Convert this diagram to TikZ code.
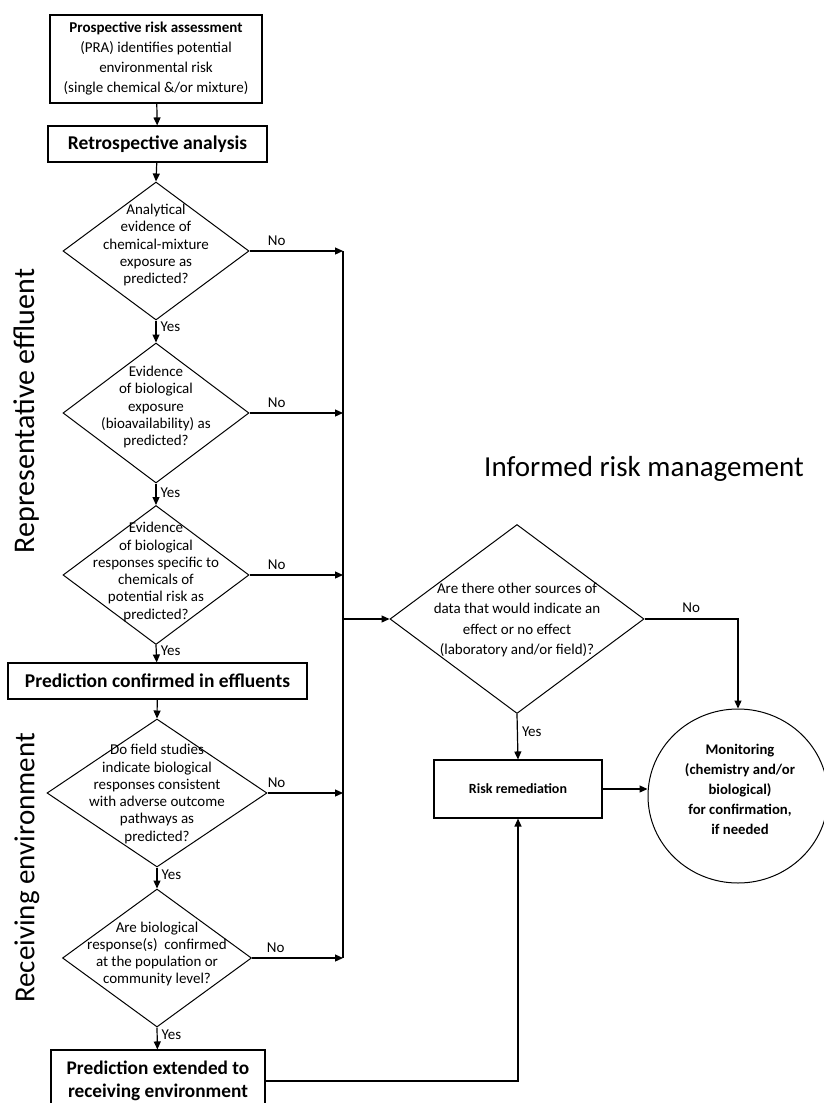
\documentclass[tikz,border=0pt]{standalone}
\usepackage{fontspec}
\setmainfont{Carlito}
\usetikzlibrary{shapes.geometric,arrows.meta}
\begin{document}
\begin{tikzpicture}[x=1pt,y=-1pt,
  box/.style={draw, line width=1.1pt, inner sep=0pt, align=center},
  dia/.style={draw, diamond, inner sep=0pt, line width=1pt},
  dtext/.style={align=center, inner sep=0pt, font=\fontsize{15}{17.3}\selectfont},
  lbl/.style={inner sep=0pt, font=\fontsize{15}{17}\selectfont},
  arr/.style={-{Triangle[length=8pt,width=7pt]}, line width=1.2pt},
  conn/.style={line width=1.2pt},
  big/.style={inner sep=0pt, font=\fontsize{30}{34}\selectfont}]
\fill[white] (0,0) rectangle (823,1103);
\useasboundingbox (0,0) rectangle (823,1103);

% left column
\node[box, minimum width=212pt, minimum height=88pt, font=\fontsize{15}{20}\selectfont] (pra) at (156,59)
  {\textbf{Prospective risk assessment}\\(PRA) identifies potential\\environmental risk\\(single chemical \&/or mixture)};
\node[box, minimum width=219pt, minimum height=36pt, font=\bfseries\fontsize{19.5}{22}\selectfont] (retro) at (157.5,144) {Retrospective analysis};

\node[dia, minimum width=186pt, minimum height=138pt] (d1) at (156,251) {};
\node[dtext] at (156,245) {Analytical\\evidence of\\chemical-mixture\\exposure as\\predicted?};
\node[dia, minimum width=186pt, minimum height=140pt] (d2) at (156,413) {};
\node[dtext] at (156,407) {Evidence\\of biological\\exposure\\(bioavailability) as\\predicted?};
\node[dia, minimum width=186pt, minimum height=139pt] (d3) at (156,575) {};
\node[dtext] at (156,572) {Evidence\\of biological\\responses specific to\\chemicals of\\potential risk as\\predicted?};

\node[box, minimum width=299pt, minimum height=36pt, font=\bfseries\fontsize{19.5}{22}\selectfont] (conf) at (157.5,681) {Prediction confirmed in effluents};

\node[dia, minimum width=220pt, minimum height=148pt] (d4) at (157,793) {};
\node[dtext] at (157,794) {Do field studies\\indicate biological\\responses consistent\\with adverse outcome\\pathways as\\predicted?};
\node[dia, minimum width=189pt, minimum height=138pt] (d5) at (157,958) {};
\node[dtext] at (157,954) {Are biological\\response(s)\ \ confirmed\\at the population or\\community level?};

\node[box, minimum width=214pt, minimum height=62pt, font=\bfseries\fontsize{19.3}{23}\selectfont] (ext) at (158,1081) {Prediction extended to\\receiving environment};

% side labels
\node[big, rotate=90] (rep) at (27,411) {Representative effluent};
\node[big, rotate=90, font=\fontsize{29}{34}\selectfont] (rec) at (27,868) {Receiving environment};
\node[big, font=\fontsize{29}{34}\selectfont] (irm) at (644,469) {Informed risk management};

% right part
\node[dia, minimum width=254pt, minimum height=189pt] (d6) at (517,619) {};
\node[dtext, font=\fontsize{15}{20.3}\selectfont] at (517,620) {Are there other sources of\\data that would indicate an\\effect or no effect\\(laboratory and/or field)?};
\node[box, minimum width=168pt, minimum height=58pt, font=\bfseries\fontsize{14}{16}\selectfont] (risk) at (518,789) {Risk remediation};
\node[draw, ellipse, line width=1pt, minimum width=180pt, minimum height=174pt, inner sep=0pt] (mon) at (738,796) {};
\node[align=center, inner sep=0pt, font=\bfseries\fontsize{14.7}{20}\selectfont] at (740,789)
  {Monitoring\\(chemistry and/or\\biological)\\for confirmation,\\if needed};

% bus
\coordinate (bus) at (343,0);

% connectors
\draw[arr] (pra) -- (retro);
\draw[arr] (retro) -- (d1.north);
\draw[arr] (d1.south) -- node[lbl, right=4pt, pos=0.3] (y1) {Yes} (d2.north);
\draw[arr] (d2.south) -- node[lbl, right=4pt, pos=0.45] (y2) {Yes} (d3.north);
\draw[arr] (d3.south) -- node[lbl, right=4pt, pos=0.3] (y3) {Yes} (conf);
\draw[arr] (conf) -- (d4.north);
\draw[arr] (d4.south) -- node[lbl, right=4pt, pos=0.35] (y4) {Yes} (d5.north);
\draw[arr] (d5.south) -- node[lbl, right=4pt, pos=0.35] (y5) {Yes} (ext);

\draw[arr] (d1.east) -- node[lbl, above=5pt, pos=0.29] (n1) {No} (d1.east -| bus);
\draw[arr] (d2.east) -- node[lbl, above=5pt, pos=0.29] (n2) {No} (d2.east -| bus);
\draw[arr] (d3.east) -- node[lbl, above=5pt, pos=0.29] (n3) {No} (d3.east -| bus);
\draw[arr] (d4.east) -- node[lbl, above=5pt, pos=0.12] (n4) {No} (d4.east -| bus);
\draw[arr] (d5.east) -- node[lbl, above=5pt, pos=0.26] (n5) {No} (d5.east -| bus);
\draw[conn] (d1.east -| bus) -- (d5.east -| bus);
\draw[arr] (d6.west -| bus) -- (d6.west);

\draw[arr] (d6.east) -| node[lbl, above=6pt, pos=0.25] (n6) {No} (mon.north);
\draw[arr] (d6.south) -- node[lbl, right=4pt, pos=0.4] (y6) {Yes} (risk.north);
\draw[arr] (risk.east) -- (risk.east -| mon.west);
\draw[arr] (ext.east) -| (risk.south);
\end{tikzpicture}
\end{document}
